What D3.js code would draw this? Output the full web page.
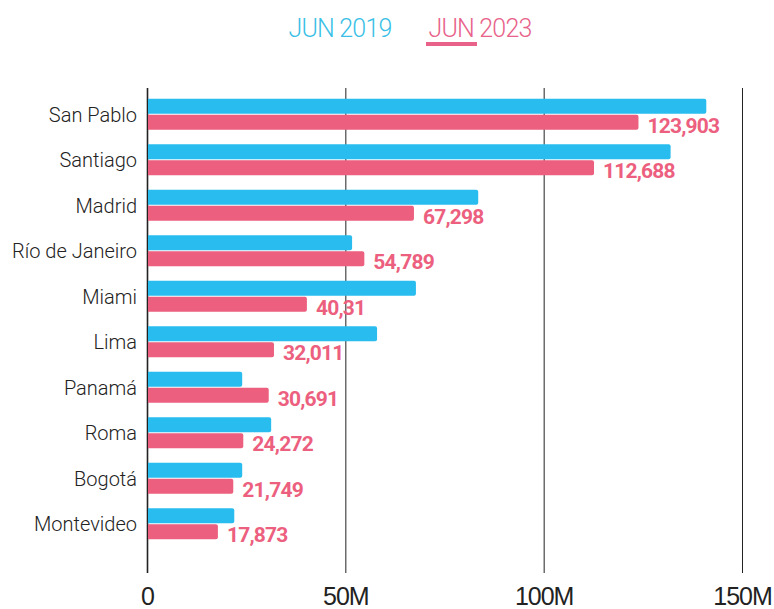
<!DOCTYPE html>
<html>
<head>
<meta charset="utf-8">
<script src="https://cdn.jsdelivr.net/npm/d3@7"></script>
<style>
  html, body { margin: 0; padding: 0; background: #fff; }
  svg { display: block; font-family: Roboto, "Noto Sans", sans-serif; }
</style>
</head>
<body>
<svg id="chart" width="774" height="609"></svg>
<script>
// city order top to bottom
const cities = ['San Pablo','Santiago','Madrid','Río de Janeiro','Miami','Lima','Panamá','Roma','Bogotá','Montevideo'];
// values in millions
const jun2019 = [141.0, 132.0, 83.5, 51.7, 67.8, 58.0, 24.0, 31.3, 24.0, 22.0];
const jun2023 = [123.903, 112.688, 67.298, 54.789, 40.31, 32.011, 30.691, 24.272, 21.749, 17.873];
// labels as printed next to the 2023 bars
const labels2023 = ['123,903','112,688','67,298','54,789','40,31','32,011','30,691','24,272','21,749','17,873'];
const seriesNames = ['JUN 2019', 'JUN 2023'];
const xTicks = [0, 50, 100, 150];

const BLUE = '#29bdef', PINK = '#ec5f7e';
const svg = d3.select('#chart');

const x = d3.scaleLinear().domain([0, 150]).range([147, 742]);
const y = d3.scaleBand().domain(cities).range([92, 547]).paddingInner(0.3).paddingOuter(0.15);
const inner = d3.scaleBand().domain(seriesNames).range([0, y.bandwidth()]);

// gridlines + axis
const axis = svg.append('g').attr('transform', 'translate(0,573)')
  .call(d3.axisBottom(x).tickValues(xTicks).tickSize(-485).tickPadding(13)
    .tickFormat(d => d === 0 ? '0' : d + 'M'));
axis.select('.domain').remove();
axis.selectAll('.tick line').attr('stroke', '#222').attr('stroke-width', 1);
axis.selectAll('.tick line').filter(d => d === 0).attr('stroke-width', 1.6);
axis.selectAll('.tick text').attr('fill', '#222').attr('font-size', 25).attr('font-weight', 300)
  .attr('letter-spacing', -1).attr('dy', '0.75em');

// category labels
svg.append('g').selectAll('text').data(cities).join('text')
  .attr('x', 137).attr('y', d => y(d) + y.bandwidth() / 2)
  .attr('text-anchor', 'end').attr('dominant-baseline', 'central')
  .attr('font-size', 20).attr('font-weight', 300).attr('fill', '#222')
  .text(d => d);

function bars(vals, key, color) {
  svg.append('g').selectAll('path').data(vals).join('path')
    .attr('fill', color)
    .attr('d', (v, i) => {
      const x0 = x(0) + 1, x1 = x(v), y0 = y(cities[i]) + inner(key), h = inner.bandwidth() - 1, r = 2;
      return `M${x0},${y0} H${x1 - r} Q${x1},${y0} ${x1},${y0 + r} V${y0 + h - r} Q${x1},${y0 + h} ${x1 - r},${y0 + h} H${x0} Z`;
    });
}
bars(jun2019, 'JUN 2019', BLUE);
bars(jun2023, 'JUN 2023', PINK);

// value labels
svg.append('g').selectAll('text').data(jun2023).join('text')
  .attr('x', v => x(v) + 9)
  .attr('y', (v, i) => y(cities[i]) + y.bandwidth() + 2)
  .attr('font-size', 21).attr('font-weight', 700).attr('letter-spacing', -0.8).attr('fill', PINK)
  .text((v, i) => labels2023[i]);

// legend
const lg = svg.append('g');
lg.append('text').attr('x', 340).attr('y', 37).attr('text-anchor', 'middle')
  .attr('font-size', 25).attr('font-weight', 300).attr('letter-spacing', -0.8).attr('fill', '#3bbfe6').text(seriesNames[0]);
lg.append('text').attr('x', 480).attr('y', 37).attr('text-anchor', 'middle')
  .attr('font-size', 25).attr('font-weight', 300).attr('letter-spacing', -0.8).attr('fill', '#e8628a').text(seriesNames[1]);
lg.append('rect').attr('x', 426).attr('y', 42).attr('width', 51).attr('height', 4).attr('fill', '#e8628a');
</script>
</body>
</html>
